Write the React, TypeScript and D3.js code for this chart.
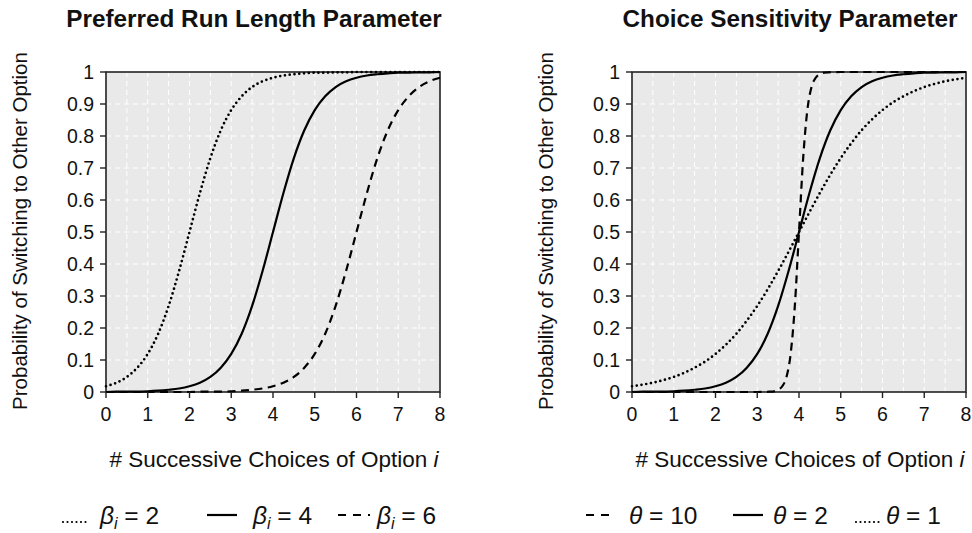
import React from "react";
import * as d3 from "d3";

// x positions (successive choices) sampled at 0.25
const xs = [0,0.25,0.5,0.75,1,1.25,1.5,1.75,2,2.25,2.5,2.75,3,3.25,3.5,3.75,4,4.25,4.5,4.75,5,5.25,5.5,5.75,6,6.25,6.5,6.75,7,7.25,7.5,7.75,8];

// Left panel: preferred run length
const beta2 = [0.018,0.029,0.047,0.076,0.119,0.182,0.269,0.378,0.5,0.622,0.731,0.818,0.881,0.924,0.953,0.971,0.982,0.989,0.993,0.996,0.998,0.998,0.999,0.999,1,1,1,1,1,1,1,1,1];
const beta4 = [0,0.001,0.001,0.001,0.002,0.004,0.007,0.011,0.018,0.029,0.047,0.076,0.119,0.182,0.269,0.378,0.5,0.622,0.731,0.818,0.881,0.924,0.953,0.971,0.982,0.989,0.993,0.996,0.998,0.998,0.999,0.999,1];
const beta6 = [0,0,0,0,0,0,0,0,0,0.001,0.001,0.001,0.002,0.004,0.007,0.011,0.018,0.029,0.047,0.076,0.119,0.182,0.269,0.378,0.5,0.622,0.731,0.818,0.881,0.924,0.953,0.971,0.982];

// Right panel: choice sensitivity
const xsSteep = [0,1,2,3,3.3,3.4,3.5,3.6,3.7,3.8,3.9,4,4.1,4.2,4.3,4.4,4.5,4.6,4.7,5,6,7,8];
const theta10 = [0,0,0,0,0.001,0.002,0.007,0.018,0.047,0.119,0.269,0.5,0.731,0.881,0.953,0.982,0.993,0.998,0.999,1,1,1,1];
const theta2 = [0,0.001,0.001,0.001,0.002,0.004,0.007,0.011,0.018,0.029,0.047,0.076,0.119,0.182,0.269,0.378,0.5,0.622,0.731,0.818,0.881,0.924,0.953,0.971,0.982,0.989,0.993,0.996,0.998,0.998,0.999,0.999,1];
const theta1 = [0.018,0.023,0.029,0.037,0.047,0.06,0.076,0.095,0.119,0.148,0.182,0.223,0.269,0.321,0.378,0.438,0.5,0.562,0.622,0.679,0.731,0.777,0.818,0.852,0.881,0.905,0.924,0.94,0.953,0.963,0.971,0.977,0.982];

const xTicks = [0,1,2,3,4,5,6,7,8];
const yTicks = [0,0.1,0.2,0.3,0.4,0.5,0.6,0.7,0.8,0.9,1];
const yTickLabels = ["0","0.1","0.2","0.3","0.4","0.5","0.6","0.7","0.8","0.9","1"];

const FONT = "'Liberation Sans', Arial, Helvetica, sans-serif";
const DOT = "0 4.8";
const DASH = "8 5.5";

type Series = { x: number[]; y: number[]; dash: string | null };

function Panel({ x0, x1, title, titleX, series, labelX }: { x0: number; x1: number; title: string; titleX: number; series: Series[]; labelX: number }) {
  const top = 72, bottom = 392;
  const xs_ = d3.scaleLinear().domain([0, 8]).range([x0, x1]);
  const ys_ = d3.scaleLinear().domain([0, 1]).range([bottom, top]);
  const gridX = d3.range(0.5, 8, 0.5);
  const gridY = d3.range(1, 10).map((d) => d / 10);
  const line = d3.line<[number, number]>().x((d) => xs_(d[0])).y((d) => ys_(d[1])).curve(d3.curveMonotoneX);
  return (
    <g>
      <text x={titleX} y={27} fontSize={24.3} fontWeight="bold" textAnchor="middle" fontFamily={FONT} fill="#111">{title}</text>
      <rect x={x0} y={top} width={x1 - x0} height={bottom - top} fill="#e9e9e9" />
      {gridX.map((g) => (
        <line key={"gx" + g} x1={xs_(g)} x2={xs_(g)} y1={top} y2={bottom} stroke="#fff" strokeWidth={1} strokeDasharray="5 4" />
      ))}
      {gridY.map((g) => (
        <line key={"gy" + g} x1={x0} x2={x1} y1={ys_(g)} y2={ys_(g)} stroke="#fff" strokeWidth={1} strokeDasharray="5 4" />
      ))}
      <rect x={x0} y={top} width={x1 - x0} height={bottom - top} fill="none" stroke="#222" strokeWidth={1.6} />
      {series.map((s, i) => (
        <path key={i} d={line(s.x.map((v, j) => [v, s.y[j]] as [number, number])) || ""} fill="none" stroke="#000"
          strokeWidth={s.dash === DOT ? 2.7 : 2.2}
          strokeDasharray={s.dash || undefined} strokeLinecap={s.dash === DOT ? "round" : "butt"} />
      ))}
      {xTicks.map((t) => (
        <g key={"xt" + t}>
          <line x1={xs_(t)} x2={xs_(t)} y1={bottom} y2={bottom + 6} stroke="#222" strokeWidth={1.4} />
          <text x={xs_(t)} y={421} fontSize={19.5} textAnchor="middle" fontFamily={FONT} fill="#111">{t}</text>
        </g>
      ))}
      {yTicks.map((t, i) => (
        <g key={"yt" + t}>
          <line x1={x0 - 6} x2={x0} y1={ys_(t)} y2={ys_(t)} stroke="#222" strokeWidth={1.4} />
          <text x={x0 - 12} y={ys_(t) + 7} fontSize={19.5} textAnchor="end" fontFamily={FONT} fill="#111">{yTickLabels[i]}</text>
        </g>
      ))}
      <text transform={`translate(${labelX},${(top + bottom) / 2 - 1}) rotate(-90)`} fontSize={20.5} textAnchor="middle" fontFamily={FONT} fill="#111">Probability of Switching to Other Option</text>
      <text x={(x0 + x1) / 2 + 1} y={467} fontSize={22.5} textAnchor="middle" fontFamily={FONT} fill="#111">
        # Successive Choices of Option <tspan fontStyle="italic">i</tspan>
      </text>
    </g>
  );
}

function LegendItem({ x, y, w, dash, sym, sub, val, textX }: { x: number; y: number; w: number; dash: string | null; sym: string; sub: string | null; val: string; textX: number }) {
  const dotted = dash === DOT;
  const ly = dotted ? y - 2 : y - 9;
  return (
    <g>
      <line x1={x} x2={x + w} y1={ly} y2={ly} stroke="#000" strokeWidth={2.2}
        strokeDasharray={dotted ? "0 4.5" : dash || undefined} strokeLinecap={dotted ? "round" : "butt"} />
      <text x={textX} y={y} fontSize={24.5} fontFamily={FONT} fill="#111">
        <tspan fontStyle="italic">{sym}</tspan>
        {sub ? <tspan fontStyle="italic" fontSize={16} dy={5}>{sub}</tspan> : null}
        <tspan dy={sub ? -5 : 0}>{" = " + val}</tspan>
      </text>
    </g>
  );
}

export default function App() {
  return (
    <svg width={972} height={533} style={{ position: "absolute", left: 0, top: 0, background: "#fff" }}>
      <Panel x0={106} x1={440} title="Preferred Run Length Parameter" titleX={254} labelX={27}
        series={[{ x: xs, y: beta2, dash: DOT }, { x: xs, y: beta4, dash: null }, { x: xs, y: beta6, dash: DASH }]} />
      <Panel x0={632} x1={966} title="Choice Sensitivity Parameter" titleX={790} labelX={553}
        series={[{ x: xsSteep, y: theta10, dash: DASH }, { x: xs, y: theta2, dash: null }, { x: xs, y: theta1, dash: DOT }]} />
      <LegendItem x={63} y={524} w={25} dash={DOT} sym="β" sub="i" val="2" textX={100} />
      <LegendItem x={207} y={524} w={30} dash={null} sym="β" sub="i" val="4" textX={253} />
      <LegendItem x={338} y={524} w={32} dash={"8 7"} sym="β" sub="i" val="6" textX={377} />
      <LegendItem x={586} y={524} w={24} dash={"8 7"} sym="θ" sub={null} val="10" textX={629} />
      <LegendItem x={733} y={524} w={30} dash={null} sym="θ" sub={null} val="2" textX={773} />
      <LegendItem x={856} y={524} w={24} dash={DOT} sym="θ" sub={null} val="1" textX={886} />
    </svg>
  );
}
